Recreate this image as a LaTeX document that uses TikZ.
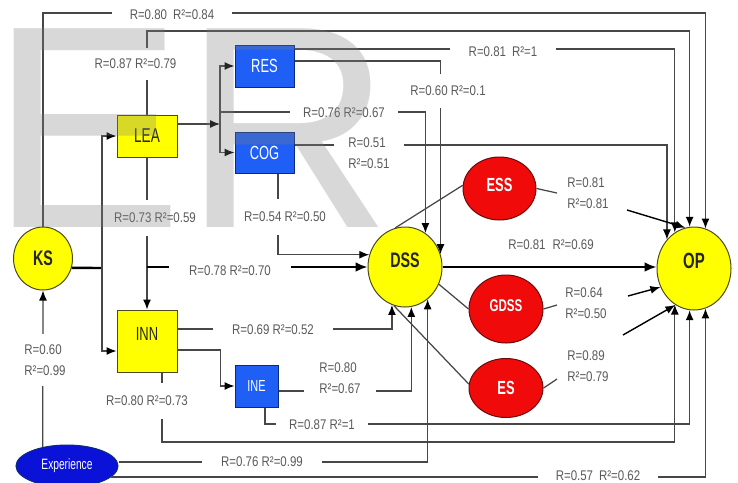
\documentclass[tikz,border=0pt]{standalone}
\usepackage{fontspec}
\setmainfont{Liberation Sans}
\newfontfamily\labfont{Liberation Sans}[FakeStretch=0.82]
\newfontfamily\nodefont{Liberation Sans}[FakeStretch=0.68]
\newfontfamily\wmfont{Liberation Sans}
\usetikzlibrary{arrows.meta,shapes.geometric}
\definecolor{ylw}{HTML}{FFFF00}
\definecolor{ylwD}{HTML}{4A4A1E}
\definecolor{blu}{HTML}{1F5FF5}
\definecolor{bluD}{HTML}{0B2A7A}
\definecolor{expb}{HTML}{0A12D8}
\definecolor{rd}{HTML}{F00A0A}
\definecolor{rdD}{HTML}{6A0A0A}
\definecolor{lnc}{HTML}{474747}
\definecolor{labc}{HTML}{5A5A5A}
\tikzset{
  ln/.style={draw=lnc, line width=1.25pt},
  blk/.style={draw=black, line width=1.4pt},
  arr/.style={-{Latex[length=10pt,width=8pt,color=black]}},
  tarr/.style={-{Latex[length=12pt,width=10pt,color=black]}},
  thk/.style={draw=black, line width=2.4pt},
  lab/.style={font=\labfont\fontsize{14}{21}\selectfont, text=labc, fill=white,
    inner xsep=2pt, inner ysep=2pt, align=left},
  yel/.style={fill=ylw, draw=ylwD, line width=1pt, inner sep=0pt, text=black!85},
  ybox/.style={yel, rectangle},
  ycirc/.style={yel, ellipse},
  bbox/.style={rectangle, fill=blu, draw=bluD, line width=1pt, inner sep=0pt, text=white},
  rcirc/.style={ellipse, fill=rd, draw=rdD, line width=1pt, inner sep=0pt, text=white},
}
\begin{document}
\begin{tikzpicture}[x=1pt,y=-1pt]
\fill[white] (0,0) rectangle (738,482);
\path[use as bounding box] (0,0) rectangle (738,482);

% nodes
\node[ycirc, minimum width=59pt, minimum height=63pt, font=\nodefont\bfseries\fontsize{21}{21}\selectfont] (KS) at (43,258.5) {KS};
\node[ybox, minimum width=60pt, minimum height=42pt, font=\nodefont\fontsize{20}{20}\selectfont] (LEA) at (147,136) {LEA};
\node[ybox, minimum width=60pt, minimum height=62pt, text depth=15pt, font=\nodefont\fontsize{19}{19}\selectfont] (INN) at (147,341) {INN};
\node[bbox, minimum width=59pt, minimum height=42pt, font=\nodefont\fontsize{19}{19}\selectfont] (RES) at (264.5,66) {RES};
\node[bbox, minimum width=59pt, minimum height=41pt, font=\nodefont\fontsize{19}{19}\selectfont] (COG) at (264.5,152.5) {COG};
\node[bbox, minimum width=43pt, minimum height=42pt, font=\nodefont\fontsize{16}{16}\selectfont] (INE) at (256.5,386) {INE};
\node[ellipse, fill=expb, draw=bluD, line width=1pt, inner sep=0pt, text=white, minimum width=102pt, minimum height=42pt, font=\nodefont\fontsize{15}{15}\selectfont] (Experience) at (67,466) {Experience};
\node[ycirc, minimum width=74pt, minimum height=80pt, text depth=13pt, font=\nodefont\bfseries\fontsize{21}{21}\selectfont] (DSS) at (405,267) {DSS};
\node[ycirc, minimum width=74pt, minimum height=83pt, text depth=16pt, font=\nodefont\bfseries\fontsize{22}{22}\selectfont] (OP) at (694,268.5) {OP};
\node[rcirc, minimum width=73pt, minimum height=63pt, text depth=8pt, font=\nodefont\bfseries\fontsize{19}{19}\selectfont] (ESS) at (499.5,188.5) {ESS};
\node[rcirc, minimum width=74pt, minimum height=68pt, text depth=7pt, font=\nodefont\bfseries\fontsize{17}{17}\selectfont] (GDSS) at (506,309) {GDSS};
\node[rcirc, minimum width=74pt, minimum height=59pt, font=\nodefont\bfseries\fontsize{19}{19}\selectfont] (ES) at (506,388) {ES};

% helper coordinates
\coordinate (top1) at (0,13);
\coordinate (top2) at (0,31);
\coordinate (b1) at (0,424);
\coordinate (b2) at (0,442);
\coordinate (jK) at (102,268);
\coordinate (jL) at (147,267);
\coordinate (jR) at (220,124);
\coordinate (jR2) at (220,112);
\coordinate (essT) at (557,193);
\coordinate (essA) at (627,210);
\coordinate (gdT) at (557,305);
\coordinate (gdA) at (628,296);
\coordinate (esT) at (557,379);
\coordinate (esA) at (623,335);

% connectors
\draw[ln,arr] (KS.north) |- (top1 -| OP.74.5) -- (OP.74.5);
\draw[ln,arr] (LEA.north) |- (top2 -| OP.96.9) -- (OP.96.9);
\draw[ln,arr] ([yshift=17pt]RES.east) -| (OP.118.1);
\draw[ln,arr] ([yshift=5pt]RES.east) -| (DSS.20.4);
\draw[ln,arr] ([yshift=7.5pt]COG.east) -| (OP.133.6);
\draw[ln,arr] ([xshift=13.5pt]COG.south) |- (DSS.161.2);
\draw[ln,arr] ([yshift=12pt]LEA.east) -- (jR);
\draw[ln,arr] (jR) |- (RES.west);
\draw[ln,arr] (jR) |- (COG.west);
\draw[ln,arr] (jR2) -| (DSS.59.2);
\draw[thk] (KS.-18.7) -- (jK);
\draw[ln,arr] (jK) |- (LEA.west);
\draw[ln,arr] (jK) |- ([yshift=-10pt]INN.west);
\draw[ln,arr] (LEA.south) -- (INN.north);
\draw[thk,tarr] (jL) -- (jL -| DSS.west);
\draw[thk,tarr] (DSS.east) -- (DSS.east -| OP.west);
\draw[ln,arr] ([yshift=12pt]INN.east) -| (DSS.-109.1);
\draw[ln,arr] ([yshift=-9pt]INN.east) -- ++(43,0) |- (INE.west);
\draw[ln,arr] ([yshift=-5pt]INE.east) -| (DSS.-81.4);
\draw[ln,arr] ([xshift=8.5pt]INE.south) |- (b1 -| OP.-96.9) -- (OP.-96.9);
\draw[ln,arr] ([xshift=15pt]INN.south) |- (b2 -| OP.-118.1) -- (OP.-118.1);
\draw[ln,arr] ([yshift=4pt]Experience.east) -| (DSS.-55.6);
\draw[ln,arr] (Experience.-14.2) -| (OP.-74.5);
\draw[ln,arr] (Experience.142.4) -- (KS.south);
\draw[ln] (DSS.104.6) -- (ESS.175);
\draw[ln] (DSS.-27) -- (GDSS.180);
\draw[ln] (DSS.-106) -- (ES.174);
\draw[ln] (ESS.east) -- (essT);
\draw[blk,arr] (essA) -- (OP.102.6);
\draw[ln] (GDSS.east) -- (gdT);
\draw[blk,arr] (gdA) -- (OP.-151.7);
\draw[ln] (ES.east) -- (esT);
\draw[blk,arr] (esA) -- (OP.-117.5);

% labels
\node[lab, inner xsep=18pt] (l1) at (172,15) {R=0.80\hspace{6pt}R²=0.84};
\node[lab, inner ysep=11pt] (l2) at (135.5,64) {R=0.87 R²=0.79};
\node[lab, inner xsep=19pt] (l3) at (503,52) {R=0.81\hspace{6pt}R²=1};
\node[lab, inner ysep=12pt] (l4) at (448,91) {R=0.60 R²=0.1};
\node[lab, inner xsep=13pt] (l5) at (344,113) {R=0.76 R²=0.67};
\node[lab, inner xsep=14pt] (l6) at (369,153) {R=0.51\\R²=0.51};
\node[lab, inner ysep=13pt] (l7) at (285,217) {R=0.54 R²=0.50};
\node[lab, inner ysep=13pt] (l8) at (155,218) {R=0.73 R²=0.59};
\node[lab, inner xsep=20pt] (l9) at (230,271) {R=0.78 R²=0.70};
\node[lab, inner xsep=19pt] (l10) at (273,330) {R=0.69 R²=0.52};
\node[lab, inner xsep=15pt] (l11) at (340,378) {R=0.80\\R²=0.67};
\node[lab, inner ysep=13pt] (l12) at (147,401) {R=0.80 R²=0.73};
\node[lab, inner xsep=13pt] (l13) at (322,425) {R=0.87 R²=1};
\node[lab, inner xsep=19pt] (l14) at (262,462) {R=0.76 R²=0.99};
\node[lab, inner xsep=18pt] (l15) at (598,476) {R=0.57\hspace{6pt}R²=0.62};
\node[lab, inner ysep=11pt] (l16) at (45,360) {R=0.60\\R²=0.99};
\node[lab, fill=none] (l17) at (551,245) {R=0.81\hspace{7pt}R²=0.69};
\node[lab, fill=none] (l18) at (588,193) {R=0.81\\R²=0.81};
\node[lab, fill=none] (l19) at (586,303) {R=0.64\\R²=0.50};
\node[lab, fill=none] (l20) at (588,366) {R=0.89\\R²=0.79};

% watermark
\node[anchor=base west, inner sep=0pt, text=black!50, text opacity=0.3,
  font=\wmfont\fontsize{289}{289}\selectfont] (wm) at (-9.8,227) {ER};
\end{tikzpicture}
\end{document}
